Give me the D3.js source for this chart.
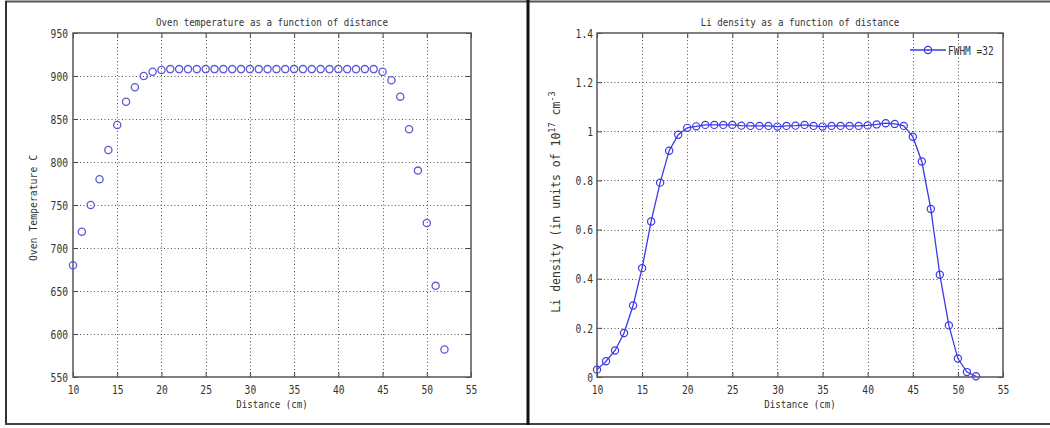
<!DOCTYPE html>
<html><head><meta charset="utf-8">
<script src="https://cdn.jsdelivr.net/npm/d3@7"></script>
<style>
body{margin:0;background:#fff;}
svg{display:block;}
text{font-family:"DejaVu Sans Mono",monospace;fill:#333;}
</style></head>
<body><svg id="c" width="1050" height="428"></svg>
<script>
const distance = d3.range(10, 53);
const ovenTemp = [680,719,750,780,814,843,870,887,900,905,907,
  908,908,908,908,908,908,908,908,908,908,908,908,
  908,908,908,908,908,908,908,908,908,908,908,908,
  905,895,876,838,790,729,656,582];
const liDensity = [0.030,0.064,0.108,0.179,0.291,0.443,0.633,0.791,0.921,0.986,1.014,
  1.020,1.026,1.026,1.026,1.026,1.023,1.022,1.022,1.022,1.019,1.022,1.023,
  1.026,1.022,1.019,1.022,1.022,1.022,1.022,1.024,1.028,1.033,1.030,1.022,
  0.978,0.877,0.684,0.416,0.210,0.075,0.020,0.003];
const xTicks = [10,15,20,25,30,35,40,45,50,55];
const tempTicks = [550,600,650,700,750,800,850,900,950];
const densTicks = [0,0.2,0.4,0.6,0.8,1,1.2,1.4];
const legendLabel = "FWHM =32";

const svg = d3.select("#c");
const CW = 5.8;

function narrow(sel, cw){
  sel.each(function(){
    const t = d3.select(this);
    const s = t.text();
    t.attr("textLength", s.length*cw).attr("lengthAdjust","spacingAndGlyphs");
  });
}

// frame
svg.append("line").attr("x1",5).attr("x2",1050).attr("y1",1.5).attr("y2",1.5).attr("stroke","#555").attr("stroke-width",2);
svg.append("line").attr("x1",6).attr("x2",6).attr("y1",1).attr("y2",425).attr("stroke","#333").attr("stroke-width",2);
svg.append("line").attr("x1",5).attr("x2",1050).attr("y1",424).attr("y2",424).attr("stroke","#444").attr("stroke-width",2);
svg.append("line").attr("x1",528).attr("x2",528).attr("y1",0).attr("y2",425).attr("stroke","#111").attr("stroke-width",3);

function panel(opt){
  const g = svg.append("g");
  const x = d3.scaleLinear().domain([10,55]).range([opt.x0,opt.x1]);
  const y = d3.scaleLinear().domain(opt.ydom).range([opt.y1,opt.y0]);
  const grid = g.append("g").attr("stroke","#555").attr("stroke-width",1).attr("stroke-dasharray","1,2.5");
  xTicks.slice(1,-1).forEach(t=>grid.append("line").attr("x1",Math.round(x(t))+0.5).attr("x2",Math.round(x(t))+0.5).attr("y1",opt.y0).attr("y2",opt.y1));
  opt.yticks.slice(1,-1).forEach(t=>grid.append("line").attr("y1",Math.round(y(t))+0.5).attr("y2",Math.round(y(t))+0.5).attr("x1",opt.x0).attr("x2",opt.x1));
  const ax = g.append("g").attr("transform",`translate(0,${opt.y1})`).call(d3.axisBottom(x).tickValues(xTicks).tickSizeInner(-5).tickSizeOuter(0).tickPadding(8));
  const axT = g.append("g").attr("transform",`translate(0,${opt.y0})`).call(d3.axisTop(x).tickValues(xTicks).tickSizeInner(-5).tickSizeOuter(0).tickFormat(""));
  const ay = g.append("g").attr("transform",`translate(${opt.x0},0)`).call(d3.axisLeft(y).tickValues(opt.yticks).tickSizeInner(-5).tickSizeOuter(0).tickPadding(opt.ypad).tickFormat(opt.fmt));
  const ayR = g.append("g").attr("transform",`translate(${opt.x1},0)`).call(d3.axisRight(y).tickValues(opt.yticks).tickSizeInner(-5).tickSizeOuter(0).tickFormat(""));
  [ax,axT,ay,ayR].forEach(a=>{a.select(".domain").remove();a.selectAll("line").attr("stroke","#444");a.selectAll("text").attr("font-size",13).attr("fill","#333").style("font-family","DejaVu Sans Mono");});
  narrow(ax.selectAll("text"), CW);
  narrow(ay.selectAll("text"), CW);
  g.append("rect").attr("x",opt.x0).attr("y",opt.y0).attr("width",opt.x1-opt.x0).attr("height",opt.y1-opt.y0).attr("fill","none").attr("stroke","#555").attr("stroke-width",1.5);
  const t = g.append("text").attr("x",(opt.x0+opt.x1)/2).attr("y",26).attr("text-anchor","middle").attr("font-size",10.5).text(opt.title);
  narrow(t, 5.52);
  const xl = g.append("text").attr("x",(opt.x0+opt.x1)/2).attr("y",408).attr("text-anchor","middle").attr("font-size",11).text("Distance (cm)");
  narrow(xl, 5.5);
  return {g,x,y};
}

// left panel
const L = panel({x0:73,x1:471,y0:33,y1:377,ydom:[550,950],yticks:tempTicks,ypad:5,fmt:d3.format("d"),title:"Oven temperature as a function of distance"});
const lyl = L.g.append("text").attr("transform","translate(37,208) rotate(-90)").attr("text-anchor","middle").attr("font-size",11).text("Oven Temperature C");
narrow(lyl, 5.9);
L.g.append("g").selectAll("circle").data(distance).join("circle")
  .attr("cx",(d)=>L.x(d)).attr("cy",(d,i)=>L.y(ovenTemp[i])).attr("r",3.6)
  .attr("fill","none").attr("stroke","#5a5ad8").attr("stroke-width",1.3);

// right panel
const R = panel({x0:597,x1:1003,y0:33,y1:377,ydom:[0,1.4],yticks:densTicks,ypad:4,fmt:(d)=>d===0?"0":(d===1?"1":d3.format(".1f")(d)),title:"Li density as a function of distance"});
const yl = R.g.append("text").attr("transform","translate(560,202) rotate(-90)").attr("text-anchor","middle").attr("font-size",11.5);
yl.append("tspan").text("Li density (in units of 10");
yl.append("tspan").attr("dy",-5).attr("font-size",8.5).text("17");
yl.append("tspan").attr("dy",5).text(" cm");
yl.append("tspan").attr("dy",-5).attr("font-size",8.5).text("-3");
const line = d3.line().x((d)=>R.x(d)).y((d,i)=>R.y(liDensity[i]));
R.g.append("path").datum(distance).attr("d",line).attr("fill","none").attr("stroke","#3a3ae6").attr("stroke-width",1.3);
R.g.append("g").selectAll("circle").data(distance).join("circle")
  .attr("cx",(d)=>R.x(d)).attr("cy",(d,i)=>R.y(liDensity[i])).attr("r",3.6)
  .attr("fill","none").attr("stroke","#3a3ae6").attr("stroke-width",1.2);
// legend
R.g.append("line").attr("x1",910).attr("x2",946).attr("y1",50).attr("y2",50).attr("stroke","#3a3ae6").attr("stroke-width",1.3);
R.g.append("circle").attr("cx",928).attr("cy",50).attr("r",3.6).attr("fill","none").attr("stroke","#3a3ae6").attr("stroke-width",1.2);
const lt = R.g.append("text").attr("x",948).attr("y",55).attr("font-size",13).text(legendLabel);
narrow(lt, 5.7);
</script></body></html>
